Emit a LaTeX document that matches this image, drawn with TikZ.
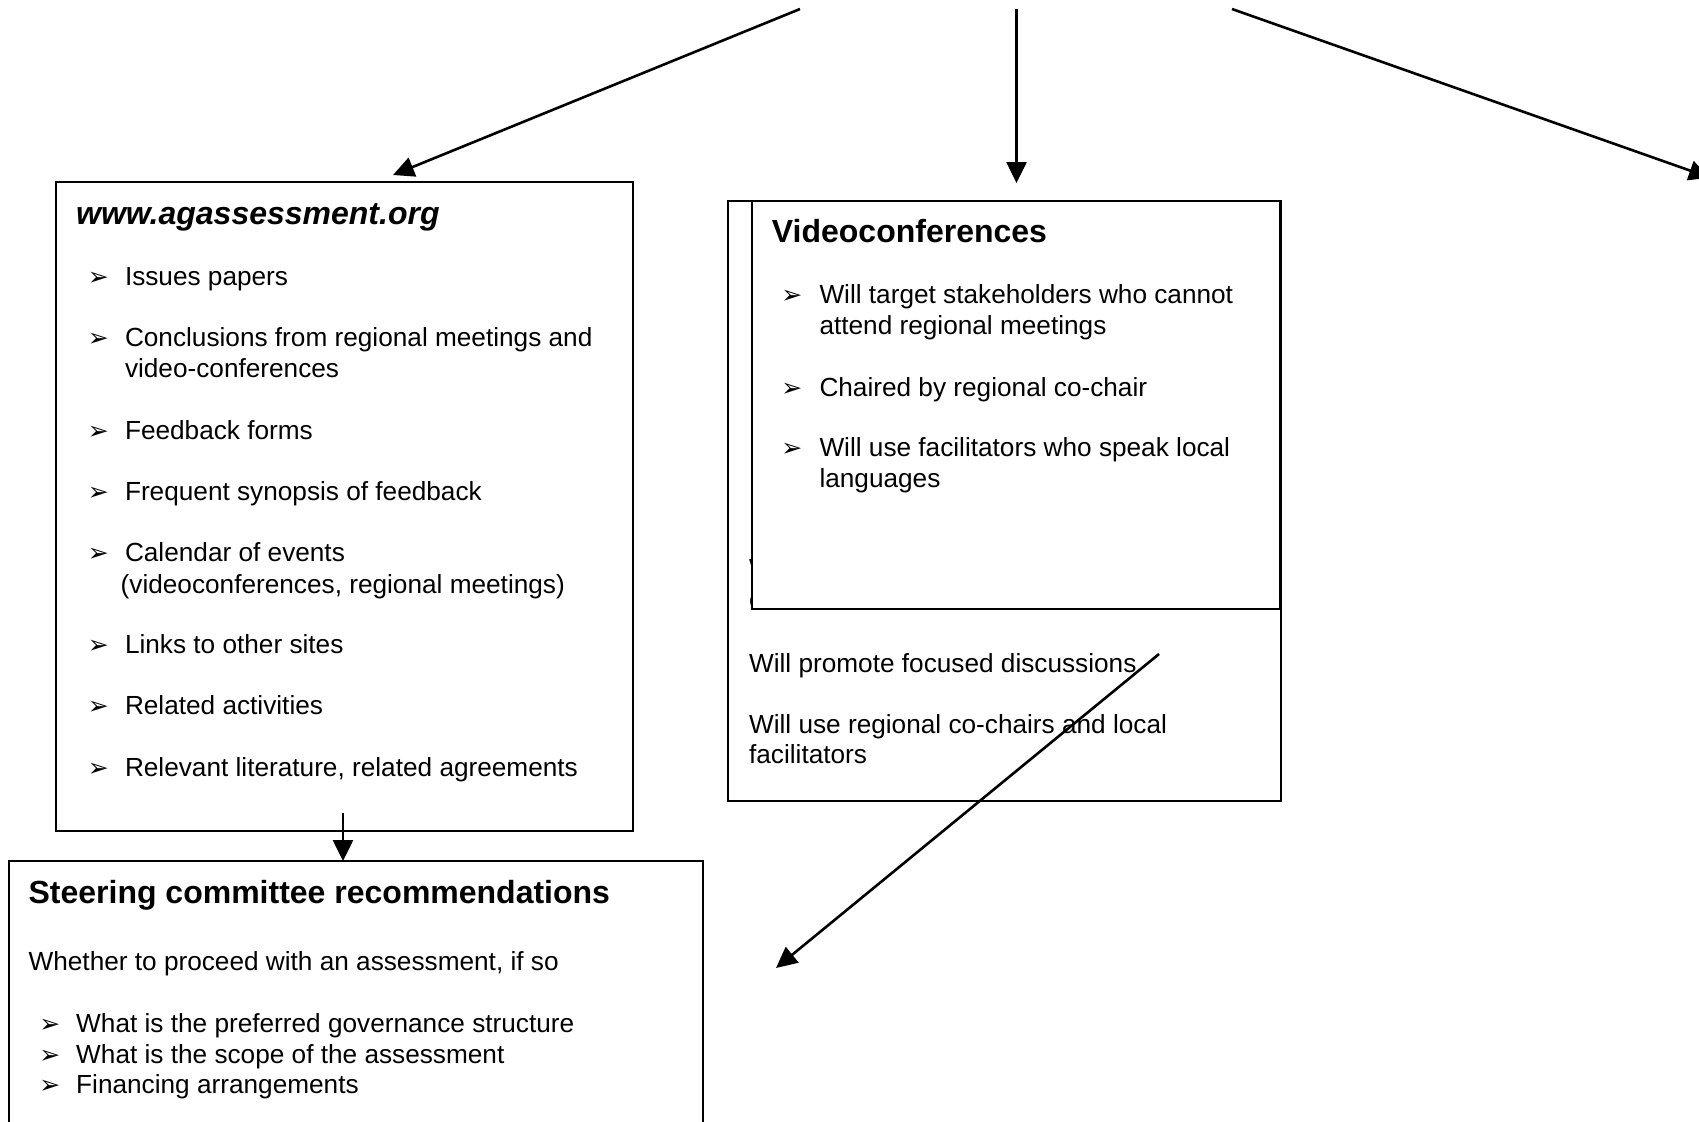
\documentclass[tikz,border=0pt]{standalone}
\usepackage{fontspec}
\setmainfont{Liberation Sans}
\newfontfamily\bulfont{DejaVu Sans}
\usetikzlibrary{arrows.meta}
\begin{document}
\begin{tikzpicture}[x=0.5pt,y=-0.5pt,
  boxnode/.style={draw, line width=1.1pt, fill=white, rectangle, inner sep=0pt, outer sep=0pt, anchor=north west},
  conn/.style={line width=1.3pt, -{Triangle[width=10pt,length=10.5pt]}},
  txt/.style={anchor=base west, inner sep=0pt, font=\fontsize{13.1}{15}\selectfont},
  head/.style={anchor=base west, inner sep=0pt, font=\fontsize{16}{19}\selectfont\bfseries},
  bit/.style={anchor=base west, inner sep=0pt, font=\bulfont\fontsize{12.5}{14}\selectfont}]
\useasboundingbox (0,0) rectangle (1699,1121);

% boxes
\node[boxnode, minimum width=288.5pt, minimum height=324.5pt] (web) at (56,182) {};
\node[boxnode, minimum width=276.5pt, minimum height=300pt] (back) at (728,201) {};
\begin{scope}
  \clip (729,196) rectangle (752,620);
  \node[head] (hid1) at (748.7,240) {R};
  \node[txt] (hid2) at (748.7,577) {W};
  \node[txt] (hid3) at (748.7,608) {c};
\end{scope}
\node[boxnode, minimum width=264pt, minimum height=204pt] (front) at (752,201) {};
\node[boxnode, minimum width=347pt, minimum height=144.5pt] (steer) at (9,861) {};

% left box text
\node[head, font=\fontsize{16}{19}\selectfont\bfseries\itshape] (webt) at (75.8,224.8) {www.agassessment.org};
\node[bit] (b1) at (87.5,285.5) {➢}; \node[txt] (l1) at (124.6,285.5) {Issues papers};
\node[bit] (b2) at (87.5,346.2) {➢}; \node[txt] (l2) at (124.6,346.2) {Conclusions from regional meetings and};
\node[txt] (l2b) at (124.6,377.6) {video-conferences};
\node[bit] (b3) at (87.5,439.4) {➢}; \node[txt] (l3) at (124.6,439.4) {Feedback forms};
\node[bit] (b4) at (87.5,500.0) {➢}; \node[txt] (l4) at (124.6,500.0) {Frequent synopsis of feedback};
\node[bit] (b5) at (87.5,561.8) {➢}; \node[txt] (l5) at (124.6,561.8) {Calendar of events};
\node[txt] (l5b) at (120.3,593.2) {(videoconferences, regional meetings)};
\node[bit] (b6) at (87.5,653.9) {➢}; \node[txt] (l6) at (124.6,653.9) {Links to other sites};
\node[bit] (b7) at (87.5,714.6) {➢}; \node[txt] (l7) at (124.6,714.6) {Related activities};
\node[bit] (b8) at (87.5,776.3) {➢}; \node[txt] (l8) at (124.6,776.3) {Relevant literature, related agreements};

% front box text
\node[head] (vct) at (771.5,242.2) {Videoconferences};
\node[bit] (v1b) at (781,303.9) {➢}; \node[txt] (v1) at (819.1,303.9) {Will target stakeholders who cannot};
\node[txt] (v1c) at (819.1,334.3) {attend regional meetings};
\node[bit] (v2b) at (781,396.0) {➢}; \node[txt] (v2) at (819.1,396.0) {Chaired by regional co-chair};
\node[bit] (v3b) at (781,456.7) {➢}; \node[txt] (v3) at (819.1,456.7) {Will use facilitators who speak local};
\node[txt] (v3c) at (819.1,487.0) {languages};

% back box visible text
\node[txt] (m1) at (748.7,672.3) {Will promote focused discussions};
\node[txt] (m2) at (748.7,733.0) {Will use regional co-chairs and local};
\node[txt] (m2b) at (748.7,763.3) {facilitators};

% bottom box text
\node[head] (st) at (28.2,903.1) {Steering committee recommendations};
\node[txt] (s1) at (28.2,970.3) {Whether to proceed with an assessment, if so};
\node[bit] (s2b) at (39,1032.0) {➢}; \node[txt] (s2) at (75.8,1032.0) {What is the preferred governance structure};
\node[bit] (s3b) at (39,1063.5) {➢}; \node[txt] (s3) at (75.8,1063.5) {What is the scope of the assessment};
\node[bit] (s4b) at (39,1093.8) {➢}; \node[txt] (s4) at (75.8,1093.8) {Financing arrangements};

% connectors
\coordinate (a1s) at (800,9);   \coordinate (a1e) at (393,175);
\coordinate (a2s) at (1016.5,9); \coordinate (a2e) at (1016.5,183);
\coordinate (a3s) at (1232,9);  \coordinate (a3e) at (1710,177.6);
\coordinate (a4s) at (1159,654); \coordinate (a4e) at (776,968);
\coordinate (a5s) at (343,813);
\draw[conn] (a1s) -- (a1e);
\draw[conn] (a2s) -- (a2e);
\draw[conn] (a3s) -- (a3e);
\draw[conn] (a4s) -- (a4e);
\draw[conn] (a5s) -- (a5s |- steer.north);
\end{tikzpicture}
\end{document}
